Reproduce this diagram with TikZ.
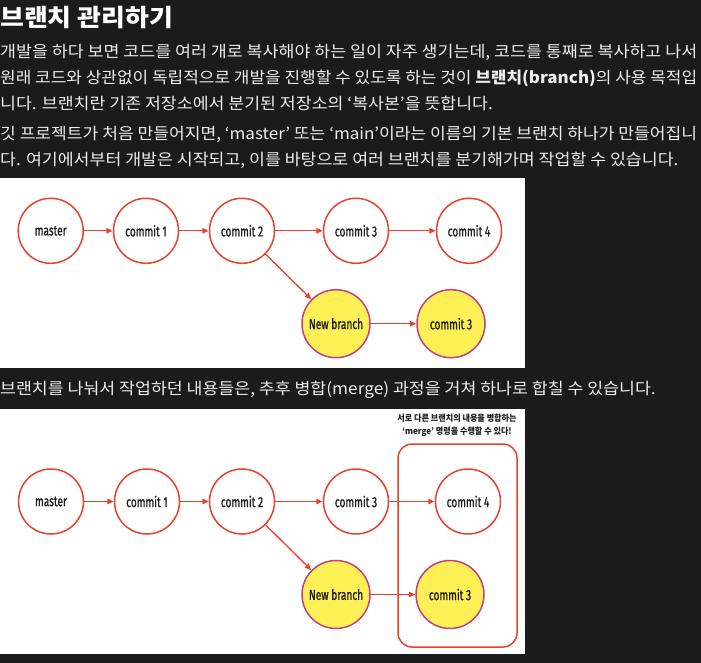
\documentclass[tikz,border=0pt]{standalone}
\usepackage{fontspec}
\setmainfont{Noto Sans CJK KR}[FakeStretch=1.08]
\newfontfamily\lab{Fira Sans}[FakeStretch=0.7,FakeBold=0.9]
\newfontfamily\note{Noto Sans CJK KR}[FakeStretch=0.92]
\usetikzlibrary{arrows.meta}
\newcommand\fitto[2]{\resizebox{#1}{\height}{#2}}
\definecolor{pagebg}{HTML}{1B1B1B}
\definecolor{bodytext}{HTML}{EDEDED}
\definecolor{gitred}{HTML}{E8412C}
\definecolor{gityellow}{HTML}{FFF055}
\definecolor{gitmag}{HTML}{C2407F}
\definecolor{labtext}{HTML}{1E1E1E}
\tikzset{
  line/.style={anchor=base west, inner sep=0pt, text=bodytext, font=\fontsize{16}{16}\selectfont},
  whitec/.style={circle, draw=gitred, line width=1.5pt, fill=white, minimum size=65pt, inner sep=0pt,
     font=\lab\fontsize{14.5}{14.5}\selectfont, text=labtext},
  yellowc/.style={circle, draw=gitmag, line width=1.5pt, fill=gityellow, minimum size=68pt, inner sep=0pt,
     font=\lab\fontsize{14.5}{14.5}\selectfont, text=labtext},
  conn/.style={draw=gitred, line width=1.3pt, -{Triangle[length=6.5pt,width=5.5pt]}},
  imgbox/.style={fill=white},
}
\begin{document}
\begin{tikzpicture}[x=1pt,y=-1pt]
\fill[pagebg] (0,0) rectangle (701,663);
\useasboundingbox (0,0) rectangle (701,663);

% text
\node[line, font=\bfseries\fontsize{24}{24}\selectfont, text=white] (title) at (0,27) {브랜치 관리하기};
\node[line] (l1) at (0,58) {\fitto{697pt}{개발을 하다 보면 코드를 여러 개로 복사해야 하는 일이 자주 생기는데, 코드를 통째로 복사하고 나서}};
\node[line] (l2) at (0,84) {\fitto{697pt}{원래 코드와 상관없이 독립적으로 개발을 진행할 수 있도록 하는 것이 \textbf{브랜치(branch)}의 사용 목적입}};
\node[line] (l3) at (0,110) {니다. 브랜치란 기존 저장소에서 분기된 저장소의 ‘복사본’을 뜻합니다.};
\node[line] (l4) at (0,140) {\fitto{697pt}{깃 프로젝트가 처음 만들어지면, ‘master’ 또는 ‘main’이라는 이름의 기본 브랜치 하나가 만들어집니}};
\node[line] (l5) at (0,166) {다. 여기에서부터 개발은 시작되고, 이를 바탕으로 여러 브랜치를 분기해가며 작업할 수 있습니다.};
\node[line] (l6) at (0,394) {브랜치를 나눠서 작업하던 내용들은, 추후 병합(merge) 과정을 거쳐 하나로 합칠 수 있습니다.};

% image 1
\fill[imgbox] (0,178) rectangle (525,368);
\node[whitec] (a0) at (50.7,230.8) {master};
\node[whitec] (a1) at (146,230.8) {commit 1};
\node[whitec] (a2) at (242,230.8) {commit 2};
\node[whitec] (a3) at (356,230.8) {commit 3};
\node[whitec] (a4) at (469,230.8) {commit 4};
\node[yellowc] (ab) at (336,323.7) {New branch};
\node[yellowc] (ay) at (451,323.7) {commit 3};
\draw[conn] (a0) -- (a1);
\draw[conn] (a1) -- (a2);
\draw[conn] (a2) -- (a3);
\draw[conn] (a3) -- (a4);
\draw[conn] (a2) -- (ab);
\draw[conn] (ab) -- (ay);

% image 2
\fill[imgbox] (0,409) rectangle (525,654);
\node[draw=gitred, line width=1.5pt, rounded corners=14pt, minimum width=119pt, minimum height=203pt, inner sep=0pt] (mbox) at (457.5,545.5) {};
\node[font=\note\bfseries\fontsize{8.8}{13}\selectfont, text=labtext, align=center, inner sep=0pt] (ann) at (457,425.5) {서로 다른 브랜치의 내용을 병합하는\\‘merge’ 명령을 수행할 수 있다!};
\node[whitec] (b0) at (51,501.5) {master};
\node[whitec] (b1) at (147,501.5) {commit 1};
\node[whitec] (b2) at (242,501.5) {commit 2};
\node[whitec] (b3) at (356,501.5) {commit 3};
\node[whitec] (b4) at (468,501.5) {commit 4};
\node[yellowc] (bb) at (336,594.5) {New branch};
\node[yellowc] (by) at (450,594.5) {commit 3};
\draw[conn] (b0) -- (b1);
\draw[conn] (b1) -- (b2);
\draw[conn] (b2) -- (b3);
\draw[conn] (b3) -- (b4);
\draw[conn] (b2) -- (bb);
\draw[conn] (bb) -- (by);
\end{tikzpicture}
\end{document}
